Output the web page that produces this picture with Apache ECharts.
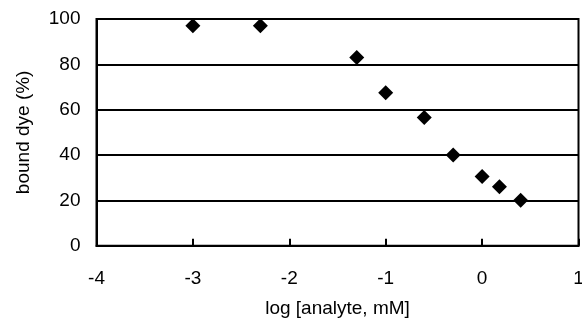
<!DOCTYPE html>
<html><head><meta charset="utf-8">
<script src="https://cdn.jsdelivr.net/npm/echarts@6/dist/echarts.min.js"></script>
<style>html,body{margin:0;padding:0;background:#fff}#c{width:582px;height:320px}</style>
</head><body><div id="c"></div>
<script>
const logConc = [-3.0, -2.3, -1.3, -1.0, -0.6, -0.3, 0.0, 0.18, 0.4];
const boundDye = [97, 97, 83, 67.5, 56.5, 40, 30.5, 26, 20];
const xTicks = [-4, -3, -2, -1, 0, 1];
const yTicks = [0, 20, 40, 60, 80, 100];

const chart = echarts.init(document.getElementById('c'), null, {renderer: 'canvas'});
const font = 'Liberation Sans, Arial, sans-serif';
chart.setOption({
  animation: false,
  grid: {left: 96.5, right: 3.5, top: 19, bottom: 74.3, show: true, borderColor: '#000', borderWidth: 2,
         containLabel: false, outerBoundsMode: 'none'},
  xAxis: {
    type: 'value', min: xTicks[0], max: xTicks[xTicks.length-1], interval: 1,
    name: 'log [analyte, mM]', nameLocation: 'middle', nameGap: 54,
    nameTextStyle: {fontFamily: font, fontSize: 19, color: '#000'},
    axisLine: {show: true, onZero: false, lineStyle: {color: '#000', width: 2}},
    axisTick: {show: true, inside: true, length: 7, lineStyle: {color: '#000', width: 2}},
    axisLabel: {fontFamily: font, fontSize: 19, color: '#000', margin: 24},
    splitLine: {show: false}
  },
  yAxis: {
    type: 'value', min: yTicks[0], max: yTicks[yTicks.length-1], interval: 20,
    name: 'bound dye (%)', nameLocation: 'middle', nameGap: 63, nameRotate: 90,
    nameTextStyle: {fontFamily: font, fontSize: 19, color: '#000'},
    axisLine: {show: true, onZero: false, lineStyle: {color: '#000', width: 2}},
    axisTick: {show: false},
    axisLabel: {fontFamily: font, fontSize: 19, color: '#000', margin: 16},
    splitLine: {show: true, lineStyle: {color: '#000', width: 2}}
  },
  series: [{
    type: 'scatter',
    data: logConc.map((x, i) => [x, boundDye[i]]),
    symbol: 'diamond', symbolSize: 15,
    itemStyle: {color: '#000', opacity: 1}
  }]
});
</script></body></html>
